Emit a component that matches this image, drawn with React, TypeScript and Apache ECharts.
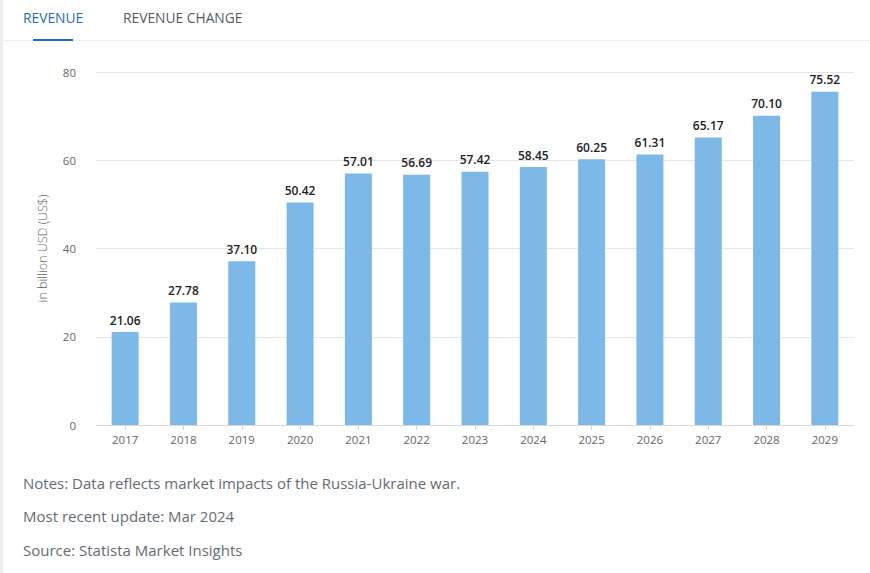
import React, { useEffect, useRef } from "react";
import * as echarts from "echarts";

const categories = ["2017", "2018", "2019", "2020", "2021", "2022", "2023", "2024", "2025", "2026", "2027", "2028", "2029"];
const revenue = [21.06, 27.78, 37.1, 50.42, 57.01, 56.69, 57.42, 58.45, 60.25, 61.31, 65.17, 70.1, 75.52];
const notes = [
  "Notes: Data reflects market impacts of the Russia-Ukraine war.",
  "Most recent update: Mar 2024",
  "Source: Statista Market Insights",
];
const tabs = ["REVENUE", "REVENUE CHANGE"];

export default function App() {
  const ref = useRef<HTMLDivElement>(null);
  useEffect(() => {
    document.body.style.margin = "0";
    const chart = echarts.init(ref.current!, null, { renderer: "svg" });
    const font = "'Open Sans', 'Noto Sans', sans-serif";
    chart.setOption({
      animation: false,
      textStyle: { fontFamily: font },
      grid: { left: 96, right: 16, top: 72, bottom: 148 },
      xAxis: {
        type: "category",
        data: categories,
        axisLine: { lineStyle: { color: "#d8d8d8" } },
        axisTick: { show: true, alignWithLabel: true, lineStyle: { color: "#d8d8d8" } },
        axisLabel: { color: "#666", fontSize: 11.5, margin: 8, fontFamily: font },
      },
      yAxis: {
        type: "value",
        min: 0,
        max: 80,
        interval: 20,
        name: "in billion USD (US$)",
        nameLocation: "middle",
        nameGap: 47,
        nameTextStyle: { color: "#666", fontSize: 12.5, fontFamily: font, fontWeight: 300 },
        axisLine: { show: false },
        axisTick: { show: false },
        axisLabel: { color: "#666", fontSize: 11.5, margin: 20, fontFamily: font },
        splitLine: { lineStyle: { color: "#e6e6e6" } },
      },
      series: [
        {
          type: "bar",
          data: revenue,
          barWidth: 27,
          itemStyle: { color: "#7db9e8" },
          label: {
            show: true,
            position: "top",
            formatter: (p: any) => p.value.toFixed(2),
            color: "#222",
            fontWeight: 600,
            fontSize: 12,
            fontFamily: font,
            distance: 6,
          },
        },
      ],
      graphic: [
        { type: "rect", left: 0, top: 0, shape: { width: 3, height: 573 }, style: { fill: "#eceef2" } },
        { type: "rect", left: 3, top: 40, shape: { width: 867, height: 1 }, style: { fill: "#eeeeee" } },
        { type: "text", left: 23, top: 10, style: { text: tabs[0], fill: "#1e6bc6", fontSize: 13.8, fontFamily: font } },
        { type: "rect", left: 33, top: 39, shape: { width: 40, height: 2 }, style: { fill: "#1e6bc6" } },
        { type: "text", left: 123, top: 10, style: { text: tabs[1], fill: "#555b66", fontSize: 13.8, fontFamily: font } },
        { type: "text", left: 23, top: 475, style: { text: notes[0], fill: "#666b73", fontSize: 15, fontFamily: font } },
        { type: "text", left: 23, top: 508, style: { text: notes[1], fill: "#666b73", fontSize: 15, fontFamily: font } },
        { type: "text", left: 23, top: 542, style: { text: notes[2], fill: "#666b73", fontSize: 15, fontFamily: font } },
      ],
    });
    return () => chart.dispose();
  }, []);
  return <div ref={ref} style={{ position: "fixed", left: 0, top: 0, width: 870, height: 573, background: "#fff" }} />;
}
